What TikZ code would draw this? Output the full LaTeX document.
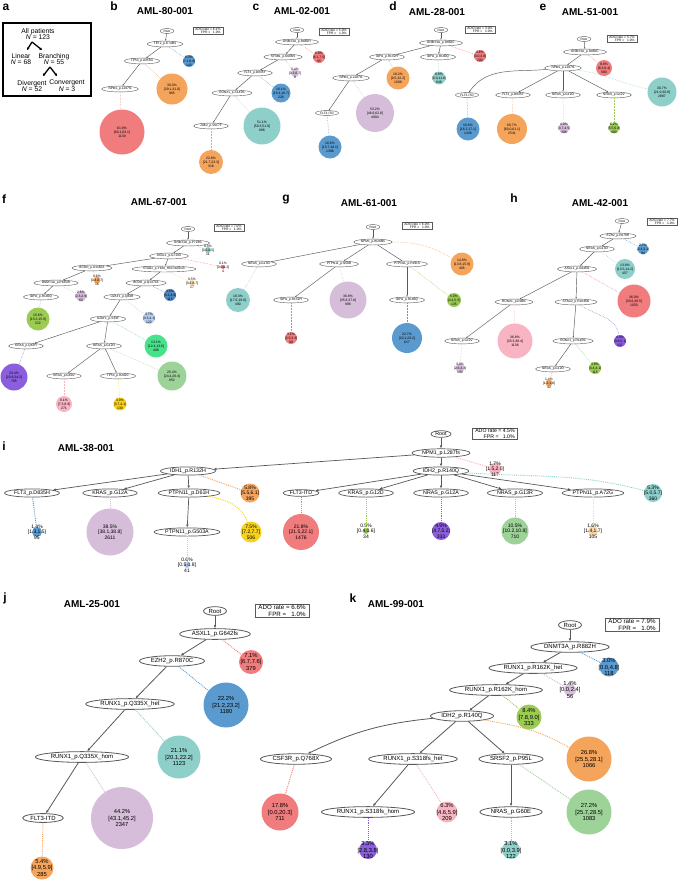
\documentclass[tikz,border=0pt]{standalone}
\usepackage{fontspec}
\setmainfont{Liberation Sans}
\usetikzlibrary{shapes.geometric,arrows.meta}
\definecolor{cRed}{RGB}{240,124,126}
\definecolor{cBlue}{RGB}{90,154,206}
\definecolor{cOrange}{RGB}{245,164,92}
\definecolor{cTeal}{RGB}{142,207,202}
\definecolor{cLav}{RGB}{214,189,218}
\definecolor{cGreen}{RGB}{156,203,84}
\definecolor{cMint}{RGB}{157,210,152}
\definecolor{cPurple}{RGB}{138,94,220}
\definecolor{cPink}{RGB}{248,180,194}
\definecolor{cYellow}{RGB}{247,208,28}
\definecolor{cSky}{RGB}{182,206,242}
\definecolor{cPeach}{RGB}{252,214,166}
\definecolor{cLime}{RGB}{72,226,140}
\definecolor{cSteel}{RGB}{82,136,190}

\begin{document}
\begin{tikzpicture}[x=1pt, y=-1pt,
  ttl/.style={font=\bfseries\fontsize{10}{12}\selectfont},
  plet/.style={font=\bfseries\fontsize{12}{14}\selectfont},
  atxt/.style={align=center, inner sep=0pt, font=\fontsize{6.8}{6.8}\selectfont},
  aarr/.style={line width=1.3pt, -{Stealth[length=2.6pt,width=3pt]}},
  mut/.style={ellipse, draw=black!65, line width=0.8pt, inner xsep=1.8pt, inner ysep=1pt, font=\fontsize{6}{6.6}\selectfont},
  imut/.style={mut, line width=0.7pt, inner xsep=1.5pt, inner ysep=0.5pt, font=\fontsize{5.3}{5.8}\selectfont},
  smut/.style={mut, line width=0.4pt, inner xsep=1.5pt, inner ysep=0.6pt, font=\fontsize{3.2}{3.6}\selectfont},
  tree/.style={draw=black!65, line width=0.8pt, -{Latex[length=3pt,width=2.6pt]}},
  itree/.style={tree, line width=0.7pt},
  stree/.style={draw=black!65, line width=0.45pt, -{Latex[length=1.6pt,width=1.4pt]}},
  cline/.style={draw=#1, densely dotted, line width=0.9pt},
  scline/.style={draw=#1, densely dotted, line width=0.5pt},
  cell/.style={circle, fill=#1, inner sep=0pt},
  ctxt/.style={align=center, inner sep=0pt, font=\fontsize{5.8}{6.5}\selectfont},
  ictxt/.style={align=center, inner sep=0pt, font=\fontsize{5}{5.7}\selectfont},
  sctxt/.style={align=center, inner sep=0pt, font=\fontsize{3.4}{3.9}\selectfont},
  ado/.style={draw=black!65, line width=0.9pt, align=right, inner xsep=3.5pt, inner ysep=1.2pt, font=\fontsize{6.2}{6.7}\selectfont},
  iado/.style={ado, line width=0.7pt, inner xsep=3pt, inner ysep=1pt, font=\fontsize{5.2}{5.7}\selectfont},
  sado/.style={ado, line width=0.45pt, inner xsep=2.5pt, inner ysep=0.7pt, font=\fontsize{3.3}{3.6}\selectfont}]
  \useasboundingbox[fill=white] (0,0) rectangle (680,881);

  % a: overview
  \node[plet] (aLet) at (6,7) {a};
  \draw[line width=1.2pt] (3,23) rectangle (91,96);
  \node[atxt] (aAll) at (38,34) {All patients\\\textit{N} = 123};
  \node[atxt] (aLin) at (21,59) {Linear\\\textit{N} = 68};
  \node[atxt] (aBr) at (54,59) {Branching\\\textit{N} = 55};
  \node[atxt] (aDiv) at (32,86) {Divergent\\\textit{N} = 52};
  \node[atxt] (aCon) at (67,86) {Convergent\\\textit{N} = 3};
  \coordinate (aF1) at (32,42); \coordinate (aF1l) at (27,50); \coordinate (aF1r) at (42,50);
  \coordinate (aF2) at (50,67); \coordinate (aF2l) at (43,76); \coordinate (aF2r) at (57,76);
  \draw[aarr] (aF1) -- (aF1l);
  \draw[aarr] (aF1) -- (aF1r);
  \draw[aarr] (aF2) -- (aF2l);
  \draw[aarr] (aF2) -- (aF2r);

  % b: AML-80-001
  \node[plet] (bLet) at (114,6) {b};
  \node[ttl] (bTi) at (165,11) {AML-80-001};
  \node[sado] (bBox) at (208,31) {ADO rate = 6.1\%\\FPR = \ \ 1.0\%};
  \node[smut] (bR) at (167,31) {Root};
  \node[smut] (bTE) at (165,44) {TET2\_p.E748fs};
  \node[smut] (bTP) at (142,61) {TP53\_p.A355G};
  \node[smut] (bNP) at (120,89) {NPM1\_p.L287fs};
  \node[cell=cBlue, minimum size=12pt, label={[sctxt]center:{8.0\%\\{[}7.1,8.9]\\143}}] (bc1) at (189,61) {};
  \node[cell=cOrange, minimum size=31pt, label={[sctxt]center:{30.0\%\\{[}29.1,31.0]\\965}}] (bc2) at (172,89) {};
  \node[cell=cRed, minimum size=45pt, label={[sctxt]center:{61.9\%\\{[}60.1,63.1]\\1139}}] (bc3) at (122,132) {};
  \draw[stree] (bR) -- (bTE);
  \draw[stree] (bTE) -- (bTP);
  \draw[stree] (bTP) -- (bNP);
  \draw[scline=cBlue] (bTE) -- (bc1);
  \draw[scline=cOrange] (bTP) -- (bc2);
  \draw[scline=cRed] (bNP) -- (bc3);

  % c: AML-02-001
  \node[plet] (cLet) at (256,7) {c};
  \node[ttl] (cTi) at (302,11) {AML-02-001};
  \node[sado] (cBox) at (334,32) {ADO rate = 5.0\%\\FPR = \ \ 1.0\%};
  \node[smut] (cR) at (297,30) {Root};
  \node[smut] (cDN) at (297,42) {DNMT3A\_p.R882H};
  \node[smut] (cSF) at (283,57) {SF3B1\_p.K666N};
  \node[smut] (cFL) at (255,73) {FLT3\_p.D835Y};
  \node[smut] (cRU) at (232,93) {RUNX1\_p.S141fs};
  \node[smut] (cJA) at (211,126) {JAK2\_p.V617F};
  \node[cell=cRed, minimum size=12pt, label={[sctxt]center:{6.8\%\\{[}6.1,7.5]\\95}}] (cc1) at (319,57) {};
  \node[cell=cLav, minimum size=8pt, label={[sctxt]center:{0.4\%\\{[}0.3,0.7]\\8}}] (cc2) at (295,73) {};
  \node[cell=cBlue, minimum size=19pt, label={[sctxt]center:{16.1\%\\{[}15.4,16.7]\\226}}] (cc3) at (281,93) {};
  \node[cell=cTeal, minimum size=37pt, label={[sctxt]center:{51.1\%\\{[}50.3,51.9]\\888}}] (cc4) at (262,126) {};
  \node[cell=cOrange, minimum size=24pt, label={[sctxt]center:{22.8\%\\{[}21.7,23.3]\\318}}] (cc5) at (211,162) {};
  \draw[stree] (cR) -- (cDN);
  \draw[stree] (cDN) -- (cSF);
  \draw[stree] (cSF) -- (cFL);
  \draw[stree] (cFL) -- (cRU);
  \draw[stree] (cRU) -- (cJA);
  \draw[scline=cRed] (cDN) -- (cc1);
  \draw[scline=cLav] (cSF) -- (cc2);
  \draw[scline=cBlue] (cFL) -- (cc3);
  \draw[scline=cTeal] (cRU) -- (cc4);
  \draw[scline=cOrange] (cJA) -- (cc5);

  % d: AML-28-001
  \node[plet] (dLet) at (393,6) {d};
  \node[ttl] (dTi) at (437,12) {AML-28-001};
  \node[sado] (dBox) at (480,30) {ADO rate = 3.0\%\\FPR = \ \ 1.0\%};
  \node[smut] (dR) at (441,30) {Root};
  \node[smut] (dDN) at (441,43) {DNMT3A\_p.R882C};
  \node[smut] (dI1) at (387,57) {IDH1\_p.R132H};
  \node[smut] (dI2) at (438,57) {IDH2\_p.R140Q};
  \node[smut] (dNP) at (351,78) {NPM1\_p.L287fs};
  \node[smut] (dFL) at (327,113) {FLT3-ITD};
  \node[cell=cRed, minimum size=12pt, label={[sctxt]center:{3.6\%\\{[}3.0,3.8]\\200}}] (dc1) at (480,56) {};
  \node[cell=cOrange, minimum size=23pt, label={[sctxt]center:{18.2\%\\{[}9.5,22.2]\\1009}}] (dc2) at (398,78) {};
  \node[cell=cTeal, minimum size=13pt, label={[sctxt]center:{8.8\%\\{[}8.0,11.8]\\848}}] (dc3) at (439,78) {};
  \node[cell=cLav, minimum size=38pt, label={[sctxt]center:{53.2\%\\{[}46.6,62.8]\\4904}}] (dc4) at (375,113) {};
  \node[cell=cBlue, minimum size=23pt, label={[sctxt]center:{16.6\%\\{[}15.7,18.1]\\1396}}] (dc5) at (330,147) {};
  \draw[stree] (dR) -- (dDN);
  \draw[stree] (dDN) -- (dI1);
  \draw[stree] (dDN) -- (dI2);
  \draw[stree] (dI1) -- (dNP);
  \draw[stree] (dNP) -- (dFL);
  \draw[scline=cRed] (dDN) -- (dc1);
  \draw[scline=cOrange] (dI1) -- (dc2);
  \draw[scline=cTeal] (dI2) -- (dc3);
  \draw[scline=cLav] (dNP) -- (dc4);
  \draw[scline=cBlue] (dFL) -- (dc5);

  % e: AML-51-001
  \node[plet] (eLet) at (543,7) {e};
  \node[ttl] (eTi) at (590,12) {AML-51-001};
  \node[sado] (eBox) at (622,39) {ADO rate = 5.7\%\\FPR = \ \ 1.0\%};
  \node[smut] (eR) at (584,39) {Root};
  \node[smut] (eDN) at (585,52) {DNMT3A\_p.R882C};
  \node[smut] (eNP) at (563,68) {NPM1\_p.L287fs};
  \node[smut] (eFI) at (467,95) {FLT3-ITD};
  \node[smut] (eFD) at (513,95) {FLT3\_p.D835Y};
  \node[smut] (eN1) at (563,95) {NRAS\_p.G12D};
  \node[smut] (eN2) at (614,95) {NRAS\_p.G12V};
  \node[cell=cRed, minimum size=16pt, label={[sctxt]center:{8.8\%\\{[}8.3,9.4]\\580}}] (ec1) at (604,68) {};
  \node[cell=cTeal, minimum size=29pt, label={[sctxt]center:{30.7\%\\{[}21.9,30.8]\\2887}}] (ec2) at (662,92) {};
  \node[cell=cBlue, minimum size=23pt, label={[sctxt]center:{16.6\%\\{[}16.2,17.1]\\1426}}] (ec3) at (468,129) {};
  \node[cell=cOrange, minimum size=30pt, label={[sctxt]center:{60.7\%\\{[}60.0,61.1]\\2541}}] (ec4) at (512,129) {};
  \node[cell=cLav, minimum size=11pt, label={[sctxt]center:{4.0\%\\{[}3.7,4.5]\\308}}] (ec5) at (564,128) {};
  \node[cell=cGreen, minimum size=11pt, label={[sctxt]center:{6.2\%\\{[}5.5,6.8]\\400}}] (ec6) at (614,128) {};
  \draw[stree] (eR) -- (eDN);
  \draw[stree] (eDN) -- (eNP);
  \draw[stree] (eNP) to[out=185,in=55] (eFI);
  \draw[stree] (eNP) -- (eFD);
  \draw[stree] (eNP) -- (eN1);
  \draw[stree] (eNP) -- (eN2);
  \draw[scline=cRed] (eDN) -- (ec1);
  \draw[scline=cTeal] (eNP) to[out=-8,in=168] (ec2);
  \draw[scline=cBlue] (eFI) -- (ec3);
  \draw[scline=cOrange] (eFD) -- (ec4);
  \draw[scline=cLav] (eN1) -- (ec5);
  \draw[scline=cGreen] (eN2) -- (ec6);

  % f: AML-67-001
  \node[plet] (fLet) at (4,199) {f};
  \node[ttl] (fTi) at (159,202) {AML-67-001};
  \node[sado] (fBox) at (229,228) {ADO rate = 7.0\%\\FPR = \ \ 1.0\%};
  \node[smut] (fR) at (188,229) {Root};
  \node[smut] (fDN) at (188,243) {DNMT3A\_p.P718fs};
  \node[smut] (fAS) at (169,256) {ASXL1\_p.G710X};
  \node[smut] (fB1) at (92,268) {BCOR\_p.D1582X};
  \node[smut] (fST) at (164,269) {STAG2\_p.Y636\_H637delinsX};
  \node[smut] (fD2) at (56,283) {DNMT3A\_p.R635W};
  \node[smut] (fB2) at (146,283) {BCOR\_p.Q1474X};
  \node[smut] (fI2) at (41,297) {IDH2\_p.R140Q};
  \node[smut] (fU1) at (122,297) {U2AF1\_p.Q84R};
  \node[smut] (fU2) at (108,319) {U2AF1\_p.S34F};
  \node[smut] (fK1) at (26,346) {KRAS\_p.Q61H};
  \node[smut] (fNR) at (104,346) {NRAS\_p.G12D};
  \node[smut] (fK2) at (64,376) {KRAS\_p.G60V};
  \node[smut] (fTP) at (118,376) {TP53\_p.R282C};
  \node[cell=cTeal, minimum size=6pt, label={[sctxt]center:{0.4\%\\{[}0.2,0.5]\\11}}] (fc1) at (208,250) {};
  \node[cell=cRed, minimum size=4pt, label={[sctxt]center:{0.1\%\\{[}0.0,0.2]\\4}}] (fc2) at (223,267) {};
  \node[cell=cOrange, minimum size=7pt, label={[sctxt]center:{0.6\%\\{[}0.4,0.7]\\16}}] (fc3) at (97,280) {};
  \node[cell=cPeach, minimum size=6pt, label={[sctxt]center:{0.5\%\\{[}0.3,0.7]\\17}}] (fc4) at (192,283) {};
  \node[cell=cLav, minimum size=11pt, label={[sctxt]center:{2.6\%\\{[}2.3,2.9]\\60}}] (fc5) at (81,296) {};
  \node[cell=cSteel, minimum size=12pt, label={[sctxt]center:{3.5\%\\{[}3.1,3.9]\\115}}] (fc6) at (170,295) {};
  \node[cell=cGreen, minimum size=23pt, label={[sctxt]center:{15.6\%\\{[}15.3,15.9]\\522}}] (fc7) at (38,319) {};
  \node[cell=cSky, minimum size=12pt, label={[sctxt]center:{3.7\%\\{[}3.3,4.1]\\122}}] (fc8) at (149,318) {};
  \node[cell=cLime, minimum size=23pt, label={[sctxt]center:{13.1\%\\{[}12.4,13.6]\\409}}] (fc9) at (156,346) {};
  \node[cell=cPurple, minimum size=27pt, label={[sctxt]center:{23.4\%\\{[}22.6,24.2]\\765}}] (fc10) at (14,377) {};
  \node[cell=cMint, minimum size=29pt, label={[sctxt]center:{25.4\%\\{[}24.4,26.4]\\852}}] (fc11) at (172,376) {};
  \node[cell=cPink, minimum size=16pt, label={[sctxt]center:{8.1\%\\{[}7.3,8.9]\\271}}] (fc12) at (64,404) {};
  \node[cell=cYellow, minimum size=13pt, label={[sctxt]center:{3.9\%\\{[}3.7,4.1]\\139}}] (fc13) at (120,404) {};
  \draw[stree] (fR) -- (fDN);
  \draw[stree] (fDN) -- (fAS);
  \draw[stree] (fAS) -- (fB1);
  \draw[stree] (fAS) -- (fST);
  \draw[stree] (fB1) -- (fD2);
  \draw[stree] (fD2) -- (fI2);
  \draw[stree] (fST) -- (fB2);
  \draw[stree] (fB2) -- (fU1);
  \draw[stree] (fU1) -- (fU2);
  \draw[stree] (fU2) -- (fK1);
  \draw[stree] (fU2) -- (fNR);
  \draw[stree] (fNR) -- (fK2);
  \draw[stree] (fNR) -- (fTP);
  \draw[scline=cTeal] (fDN) -- (fc1);
  \draw[scline=cRed] (fAS) -- (fc2);
  \draw[scline=cOrange] (fB1) -- (fc3);
  \draw[scline=cPeach] (fST) -- (fc4);
  \draw[scline=cLav] (fD2) -- (fc5);
  \draw[scline=cSteel] (fB2) -- (fc6);
  \draw[scline=cGreen] (fI2) -- (fc7);
  \draw[scline=cSky] (fU1) -- (fc8);
  \draw[scline=cLime] (fU2) -- (fc9);
  \draw[scline=cPurple] (fK1) -- (fc10);
  \draw[scline=cMint] (fNR) -- (fc11);
  \draw[scline=cPink] (fK2) -- (fc12);
  \draw[scline=cYellow] (fTP) -- (fc13);

  % g: AML-61-001
  \node[plet] (gLet) at (286,200) {g};
  \node[ttl] (gTi) at (369,203) {AML-61-001};
  \node[sado] (gBox) at (417,226) {ADO rate = 6.0\%\\FPR = \ \ 1.0\%};
  \node[smut] (gR) at (373,227) {Root};
  \node[smut] (gNP) at (373,242) {NPM1\_p.W288fs};
  \node[smut] (gN1) at (259,264) {NRAS\_p.G13D};
  \node[smut] (gP1) at (339,264) {PTPN11\_p.N58D};
  \node[smut] (gP2) at (407,264) {PTPN11\_p.P491S};
  \node[smut] (gI1) at (291,300) {IDH1\_p.R132H};
  \node[smut] (gI2) at (407,300) {IDH2\_p.R140Q};
  \node[cell=cOrange, minimum size=23pt, label={[sctxt]center:{14.8\%\\{[}13.8,15.9]\\405}}] (gc1) at (462,264) {};
  \node[cell=cTeal, minimum size=24pt, label={[sctxt]center:{18.3\%\\{[}17.6,19.0]\\490}}] (gc2) at (238,300) {};
  \node[cell=cLav, minimum size=37pt, label={[sctxt]center:{36.8\%\\{[}35.8,37.8]\\998}}] (gc3) at (348,300) {};
  \node[cell=cGreen, minimum size=14pt, label={[sctxt]center:{5.0\%\\{[}4.4,5.5]\\135}}] (gc4) at (454,300) {};
  \node[cell=cRed, minimum size=12pt, label={[sctxt]center:{3.1\%\\{[}2.9,3.3]\\98}}] (gc5) at (291,338) {};
  \node[cell=cBlue, minimum size=30pt, label={[sctxt]center:{22.7\%\\{[}22.1,23.2]\\617}}] (gc6) at (407,338) {};
  \draw[stree] (gR) -- (gNP);
  \draw[stree] (gNP) -- (gN1);
  \draw[stree] (gNP) -- (gP1);
  \draw[stree] (gNP) -- (gP2);
  \draw[stree] (gP1) -- (gI1);
  \draw[stree] (gP2) -- (gI2);
  \draw[scline=cOrange] (gNP) to[out=0,in=150] (gc1);
  \draw[scline=cTeal] (gN1) -- (gc2);
  \draw[scline=cLav] (gP1) -- (gc3);
  \draw[scline=cGreen] (gP2) -- (gc4);
  \draw[scline=cRed] (gI1) -- (gc5);
  \draw[scline=cBlue] (gI2) -- (gc6);

  % h: AML-42-001
  \node[plet] (hLet) at (514,198) {h};
  \node[ttl] (hTi) at (600,203) {AML-42-001};
  \node[sado] (hBox) at (662,222) {ADO rate = 7.7\%\\FPR = \ \ 1.0\%};
  \node[smut] (hR) at (622,221) {Root};
  \node[smut] (hEZ) at (618,236) {EZH2\_p.R679H};
  \node[smut] (hN1) at (597,249) {NRAS\_p.G13D};
  \node[smut] (hAS) at (577,269) {ASXL1\_p.G646fs};
  \node[smut] (hU1) at (514,302) {RUNX1\_p.D96fs};
  \node[smut] (hST) at (576,302) {STAG2\_p.R1046fs};
  \node[smut] (hN2) at (462,341) {NRAS\_p.G12V};
  \node[smut] (hU2) at (573,341) {RUNX1\_p.R142fs};
  \node[smut] (hN3) at (553,369) {NRAS\_p.G12D};
  \node[cell=cBlue, minimum size=11pt, label={[sctxt]center:{2.7\%\\{[}2.4,3.1]\\94}}] (hc1) at (643,249) {};
  \node[cell=cTeal, minimum size=20pt, label={[sctxt]center:{13.8\%\\{[}13.5,14.2]\\457}}] (hc2) at (625,269) {};
  \node[cell=cRed, minimum size=33pt, label={[sctxt]center:{36.0\%\\{[}33.6,38.5]\\1050}}] (hc3) at (634,301) {};
  \node[cell=cPink, minimum size=35pt, label={[sctxt]center:{36.8\%\\{[}35.3,38.4]\\1136}}] (hc4) at (515,341) {};
  \node[cell=cPurple, minimum size=12pt, label={[sctxt]center:{4.4\%\\{[}3.8,5.1]\\137}}] (hc5) at (620,341) {};
  \node[cell=cGreen, minimum size=12pt, label={[sctxt]center:{3.8\%\\{[}3.4,4.1]\\115}}] (hc6) at (595,368) {};
  \node[cell=cLav, minimum size=9pt, label={[sctxt]center:{3.0\%\\{[}2.6,3.3]\\100}}] (hc7) at (460,368) {};
  \node[cell=cOrange, minimum size=7pt, label={[sctxt]center:{1.4\%\\{[}1.2,1.6]\\42}}] (hc8) at (549,383) {};
  \draw[stree] (hR) -- (hEZ);
  \draw[stree] (hEZ) -- (hN1);
  \draw[stree] (hN1) -- (hAS);
  \draw[stree] (hAS) -- (hU1);
  \draw[stree] (hAS) -- (hST);
  \draw[stree] (hU1) -- (hN2);
  \draw[stree] (hST) -- (hU2);
  \draw[stree] (hU2) -- (hN3);
  \draw[scline=cBlue] (hEZ) -- (hc1);
  \draw[scline=cTeal] (hN1) -- (hc2);
  \draw[scline=cRed] (hAS) -- (hc3);
  \draw[scline=cPink] (hU1) -- (hc4);
  \draw[scline=cPurple] (hST) to[out=-35,in=100] (hc5);
  \draw[scline=cGreen] (hU2) -- (hc6);
  \draw[scline=cLav] (hN2) -- (hc7);
  \draw[scline=cOrange] (hN3) -- (hc8);

  % i: AML-38-001
  \node[plet] (iLet) at (4,446) {i};
  \node[ttl] (iTi) at (86,448) {AML-38-001};
  \node[iado] (iBox) at (495,434) {ADO rate = 4.5\%\\FPR = \ \ 1.0\%};
  \node[imut] (iR) at (441,434) {Root};
  \node[imut] (iNP) at (441,453) {NPM1\_p.L287fs};
  \node[imut] (iI1) at (188,471) {IDH1\_p.R132H};
  \node[imut] (iI2) at (441,471) {IDH2\_p.R140Q};
  \node[imut] (iF1) at (32,493) {FLT3\_p.D835H};
  \node[imut] (iK1) at (110,493) {KRAS\_p.G12A};
  \node[imut] (iP1) at (189,493) {PTPN11\_p.D61H};
  \node[imut] (iFI) at (301,493) {FLT3-ITD};
  \node[imut] (iK2) at (366,493) {KRAS\_p.G12D};
  \node[imut] (iN1) at (441,493) {NRAS\_p.G12A};
  \node[imut] (iN2) at (515,493) {NRAS\_p.G13R};
  \node[imut] (iP2) at (593,493) {PTPN11\_p.A72G};
  \node[imut] (iP3) at (187,532) {PTPN11\_p.G503A};
  \node[cell=cPink, minimum size=12pt, label={[ictxt]center:{1.7\%\\{[}1.5,2.0]\\117}}] (ic1) at (495,469) {};
  \node[cell=cOrange, minimum size=19pt, label={[ictxt]center:{5.8\%\\{[}5.5,6.1]\\395}}] (ic2) at (250,493) {};
  \node[cell=cTeal, minimum size=18pt, label={[ictxt]center:{5.3\%\\{[}5.0,5.7]\\360}}] (ic3) at (653,493) {};
  \node[cell=cBlue, minimum size=10pt, label={[ictxt]center:{1.4\%\\{[}1.3,1.5]\\95}}] (ic4) at (37,532) {};
  \node[cell=cLav, minimum size=47pt, label={[ictxt]center:{38.5\%\\{[}38.1,38.8]\\2611}}] (ic5) at (110,532) {};
  \node[cell=cYellow, minimum size=21pt, label={[ictxt]center:{7.5\%\\{[}7.2,7.7]\\506}}] (ic6) at (251,532) {};
  \node[cell=cRed, minimum size=36pt, label={[ictxt]center:{21.8\%\\{[}21.5,22.1]\\1476}}] (ic7) at (301,532) {};
  \node[cell=cGreen, minimum size=6pt, label={[ictxt]center:{0.5\%\\{[}0.4,0.6]\\34}}] (ic8) at (366,531) {};
  \node[cell=cPurple, minimum size=18pt, label={[ictxt]center:{4.9\%\\{[}4.7,5.2]\\333}}] (ic9) at (441,531) {};
  \node[cell=cMint, minimum size=27pt, label={[ictxt]center:{10.5\%\\{[}10.2,10.8]\\710}}] (ic10) at (515,531) {};
  \node[cell=cPeach, minimum size=10pt, label={[ictxt]center:{1.6\%\\{[}1.4,1.7]\\105}}] (ic11) at (593,531) {};
  \node[cell=cSky, minimum size=6pt, label={[ictxt]center:{0.6\%\\{[}0.5,0.8]\\41}}] (ic12) at (187,565) {};
  \draw[itree] (iR) -- (iNP);
  \draw[itree] (iNP) -- (iI1);
  \draw[itree] (iNP) -- (iI2);
  \draw[itree] (iI1) -- (iF1);
  \draw[itree] (iI1) -- (iK1);
  \draw[itree] (iI1) -- (iP1);
  \draw[itree] (iP1) -- (iP3);
  \draw[itree] (iI2) -- (iFI);
  \draw[itree] (iI2) -- (iK2);
  \draw[itree] (iI2) -- (iN1);
  \draw[itree] (iI2) -- (iN2);
  \draw[itree] (iI2) -- (iP2);
  \draw[cline=cPink] (iNP) -- (ic1);
  \draw[cline=cOrange] (iI1) -- (ic2);
  \draw[cline=cTeal] (iI2) to[out=-4,in=165] (ic3);
  \draw[cline=cBlue] (iF1) -- (ic4);
  \draw[cline=cLav] (iK1) -- (ic5);
  \draw[cline=cYellow] (iP1) to[out=-10,in=110] (ic6);
  \draw[cline=cRed] (iFI) -- (ic7);
  \draw[cline=cGreen] (iK2) -- (ic8);
  \draw[cline=cPurple] (iN1) -- (ic9);
  \draw[cline=cMint] (iN2) -- (ic10);
  \draw[cline=cPeach] (iP2) -- (ic11);
  \draw[cline=cSky] (iP3) -- (ic12);

  % j: AML-25-001
  \node[plet] (jLet) at (5,598) {j};
  \node[ttl] (jTi) at (92,604) {AML-25-001};
  \node[ado] (jBox) at (282,611) {ADO rate = 6.6\%\\FPR = \ \ 1.0\%};
  \node[mut] (jR) at (215,611) {Root};
  \node[mut] (jAS) at (215,634) {ASXL1\_p.G642fs};
  \node[mut] (jEZ) at (172,661) {EZH2\_p.R870C};
  \node[mut] (jU1) at (130,704) {RUNX1\_p.Q335X\_het};
  \node[mut] (jU2) at (82,757) {RUNX1\_p.Q335X\_hom};
  \node[mut] (jFI) at (43,818) {FLT3-ITD};
  \node[cell=cRed, minimum size=24pt, label={[ctxt]center:{7.1\%\\{[}6.7,7.6]\\379}}] (jc1) at (251,662) {};
  \node[cell=cBlue, minimum size=45pt, label={[ctxt]center:{22.2\%\\{[}21.2,23.2]\\1180}}] (jc2) at (226,705) {};
  \node[cell=cTeal, minimum size=43pt, label={[ctxt]center:{21.1\%\\{[}20.1,22.2]\\1123}}] (jc3) at (179,757) {};
  \node[cell=cLav, minimum size=62pt, label={[ctxt]center:{44.2\%\\{[}43.1,45.2]\\2347}}] (jc4) at (122,818) {};
  \node[cell=cOrange, minimum size=23pt, label={[ctxt]center:{5.4\%\\{[}4.9,5.9]\\285}}] (jc5) at (42,868) {};
  \draw[tree] (jR) -- (jAS);
  \draw[tree] (jAS) -- (jEZ);
  \draw[tree] (jEZ) -- (jU1);
  \draw[tree] (jU1) -- (jU2);
  \draw[tree] (jU2) -- (jFI);
  \draw[cline=cRed] (jAS) -- (jc1);
  \draw[cline=cBlue] (jEZ) -- (jc2);
  \draw[cline=cTeal] (jU1) -- (jc3);
  \draw[cline=cLav] (jU2) -- (jc4);
  \draw[cline=cOrange] (jFI) -- (jc5);

  % k: AML-99-001
  \node[plet] (kLet) at (353,598) {k};
  \node[ttl] (kTi) at (396,604) {AML-99-001};
  \node[ado] (kBox) at (632,625) {ADO rate = 7.9\%\\FPR = \ \ 1.0\%};
  \node[mut] (kR) at (570,625) {Root};
  \node[mut] (kDN) at (570,647) {DNMT3A\_p.R882H};
  \node[mut] (kU1) at (533,668) {RUNX1\_p.R162K\_het};
  \node[mut] (kU2) at (496,690) {RUNX1\_p.R162K\_hom};
  \node[mut] (kI2) at (462,716) {IDH2\_p.R140Q};
  \node[mut] (kCS) at (296,759) {CSF3R\_p.Q768X};
  \node[mut] (kS1) at (413,759) {RUNX1\_p.S318fs\_het};
  \node[mut] (kSR) at (511,759) {SRSF2\_p.P95L};
  \node[mut] (kS2) at (368,812) {RUNX1\_p.S318fs\_hom};
  \node[mut] (kNR) at (511,812) {NRAS\_p.G60E};
  \node[cell=cBlue, minimum size=19pt, label={[ctxt]center:{3.0\%\\{[}0.0,4.8]\\118}}] (kc1) at (609,667) {};
  \node[cell=cLav, minimum size=12pt, label={[ctxt]center:{1.4\%\\{[}0.0,2.4]\\56}}] (kc2) at (570,690) {};
  \node[cell=cGreen, minimum size=25pt, label={[ctxt]center:{8.4\%\\{[}7.8,9.0]\\333}}] (kc3) at (529,717) {};
  \node[cell=cOrange, minimum size=45pt, label={[ctxt]center:{26.8\%\\{[}25.5,28.1]\\1066}}] (kc4) at (589,759) {};
  \node[cell=cRed, minimum size=37pt, label={[ctxt]center:{17.8\%\\{[}0.0,20.3]\\711}}] (kc5) at (280,812) {};
  \node[cell=cPink, minimum size=21pt, label={[ctxt]center:{6.3\%\\{[}4.6,5.9]\\209}}] (kc6) at (447,812) {};
  \node[cell=cMint, minimum size=45pt, label={[ctxt]center:{27.2\%\\{[}25.7,28.5]\\1083}}] (kc7) at (589,812) {};
  \node[cell=cPurple, minimum size=18pt, label={[ctxt]center:{3.3\%\\{[}2.8,3.8]\\130}}] (kc8) at (368,850) {};
  \node[cell=cTeal, minimum size=18pt, label={[ctxt]center:{3.1\%\\{[}0.0,3.9]\\122}}] (kc9) at (511,850) {};
  \draw[tree] (kR) -- (kDN);
  \draw[tree] (kDN) -- (kU1);
  \draw[tree] (kU1) -- (kU2);
  \draw[tree] (kU2) -- (kI2);
  \draw[tree] (kI2) to[bend right=10] (kCS);
  \draw[tree] (kI2) -- (kS1);
  \draw[tree] (kI2) -- (kSR);
  \draw[tree] (kS1) -- (kS2);
  \draw[tree] (kSR) -- (kNR);
  \draw[cline=cBlue] (kDN) -- (kc1);
  \draw[cline=cLav] (kU1) -- (kc2);
  \draw[cline=cGreen] (kU2) -- (kc3);
  \draw[cline=cOrange] (kI2) to[out=-10,in=150] (kc4);
  \draw[cline=cRed] (kCS) -- (kc5);
  \draw[cline=cPink] (kS1) -- (kc6);
  \draw[cline=cMint] (kSR) -- (kc7);
  \draw[cline=cPurple] (kS2) -- (kc8);
  \draw[cline=cTeal] (kNR) -- (kc9);
\end{tikzpicture}
\end{document}
